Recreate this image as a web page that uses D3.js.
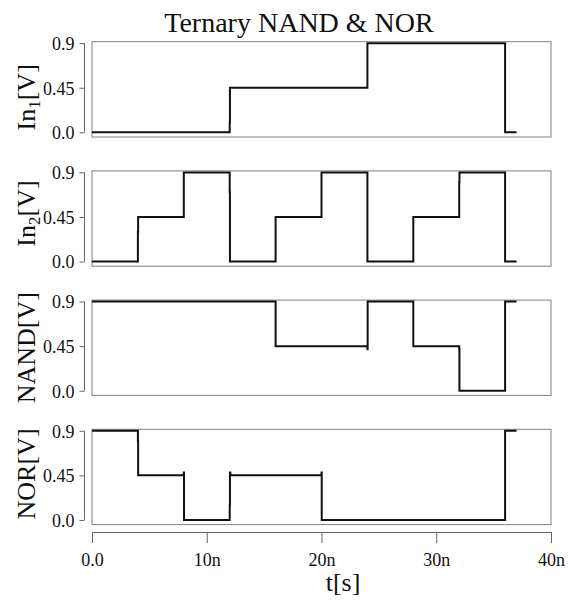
<!DOCTYPE html>
<html lang="en">
<head>
<meta charset="utf-8">
<title>Ternary NAND &amp; NOR</title>
<script src="https://cdn.jsdelivr.net/npm/d3@7"></script>
<style>
  body { margin: 0; background: #fff; }
  svg text { font-family: 'Liberation Serif', 'Times New Roman', serif; fill: #111; }
  .box { fill: none; stroke: #808080; stroke-width: 1; }
  .sig { fill: none; stroke: #111; stroke-width: 2; }
  .axis path, .axis line { stroke: #666; }
</style>
</head>
<body>
<script>
// time in ns, value in V (step after each point)
var in1T = [0, 12, 12.02, 24, 36, 37];
var in1V = [0, 0.1, 0.45, 0.9, 0, 0];

var in2T = [0, 4, 4.02, 8, 12, 12.02, 16, 20, 24, 28, 32, 32.02, 36, 37];
var in2V = [0, 0.3, 0.45, 0.9, 0.7, 0, 0.45, 0.9, 0, 0.45, 0.8, 0.9, 0, 0];

var nandT = [0, 16, 24, 24.02, 28, 32, 32.02, 36, 37];
var nandV = [0.9, 0.45, 0.42, 0.9, 0.45, 0.42, 0, 0.9, 0.9];

var norT = [0, 4, 4.02, 8, 8.02, 12, 12.02, 12.06, 20, 20.02, 36, 37];
var norV = [0.9, 0.8, 0.45, 0.48, 0, 0.15, 0.48, 0.45, 0.48, 0, 0.9, 0.9];

var panelLabels = [["In", "1"], ["In", "2"], ["NAND", ""], ["NOR", ""]];
var yTicks = [0, 0.45, 0.9];
var yTickLabels = ["0.0", "0.45", "0.9"];
var xTicks = [0, 10, 20, 30, 40];
var xTickLabels = ["0.0", "10n", "20n", "30n", "40n"];

var serif = "'Liberation Serif', 'Times New Roman', serif";
var width = 570, height = 604;
var svg = d3.select("body").append("svg").attr("width", width).attr("height", height);

var x = d3.scaleLinear().domain([0, 40]).range([92, 551]);

var series = [[in1T, in1V], [in2T, in2V], [nandT, nandV], [norT, norV]];
var labelShift = [8, -5, 0, -3];
var panelTop = 41.7, panelH = 95.3, pitch = 129.2;

series.forEach(function(s, i) {
    var top = panelTop + i * pitch;
    var y = d3.scaleLinear().domain([-0.047, 0.915]).range([top + panelH, top]);

    svg.append("rect").attr("class", "box")
        .attr("x", 92).attr("y", top).attr("width", 551 - 92).attr("height", panelH);

    var ax = svg.append("g").attr("class", "axis")
        .attr("transform", "translate(84.5,0)")
        .call(d3.axisLeft(y).tickValues(yTicks).tickSize(5).tickSizeOuter(0)
            .tickFormat(function(d, j) { return yTickLabels[j]; }));
    ax.attr("font-family", serif);
    ax.select(".domain").attr("d", "M0," + y(0) + "V" + y(0.9));
    ax.selectAll("text").attr("font-size", 18).attr("x", -10).attr("dy", "0.35em")
        .style("font-family", serif);

    var pts = s[0].map(function(t, j) { return [t, s[1][j]]; });
    var line = d3.line().x(function(d) { return x(d[0]); }).y(function(d) { return y(d[1]); })
        .curve(d3.curveStepAfter);
    svg.append("path").attr("class", "sig").attr("d", line(pts));

    var lab = svg.append("text")
        .attr("transform", "translate(35," + (top + panelH / 2 + labelShift[i]) + ") rotate(-90)")
        .attr("text-anchor", "middle").attr("font-size", 26);
    lab.append("tspan").text(panelLabels[i][0]);
    if (panelLabels[i][1]) {
        lab.append("tspan").attr("dy", 5).attr("font-size", 17).text(panelLabels[i][1]);
        lab.append("tspan").attr("dy", -5).text("[V]");
    } else {
        lab.append("tspan").text("[V]");
    }
});

var xa = svg.append("g").attr("class", "axis")
    .attr("transform", "translate(0,532)")
    .call(d3.axisBottom(x).tickValues(xTicks).tickSize(11).tickSizeOuter(0)
        .tickFormat(function(d, j) { return xTickLabels[j]; }));
xa.attr("font-family", serif);
xa.selectAll("text").attr("font-size", 18).attr("y", 23).attr("dy", "0.6em")
    .style("font-family", serif);

svg.append("text").attr("x", 343).attr("y", 591).attr("text-anchor", "middle")
    .attr("font-size", 26).text("t[s]");

svg.append("text").attr("x", 299).attr("y", 32).attr("text-anchor", "middle")
    .attr("font-size", 28).text("Ternary NAND & NOR");
</script>
</body>
</html>
